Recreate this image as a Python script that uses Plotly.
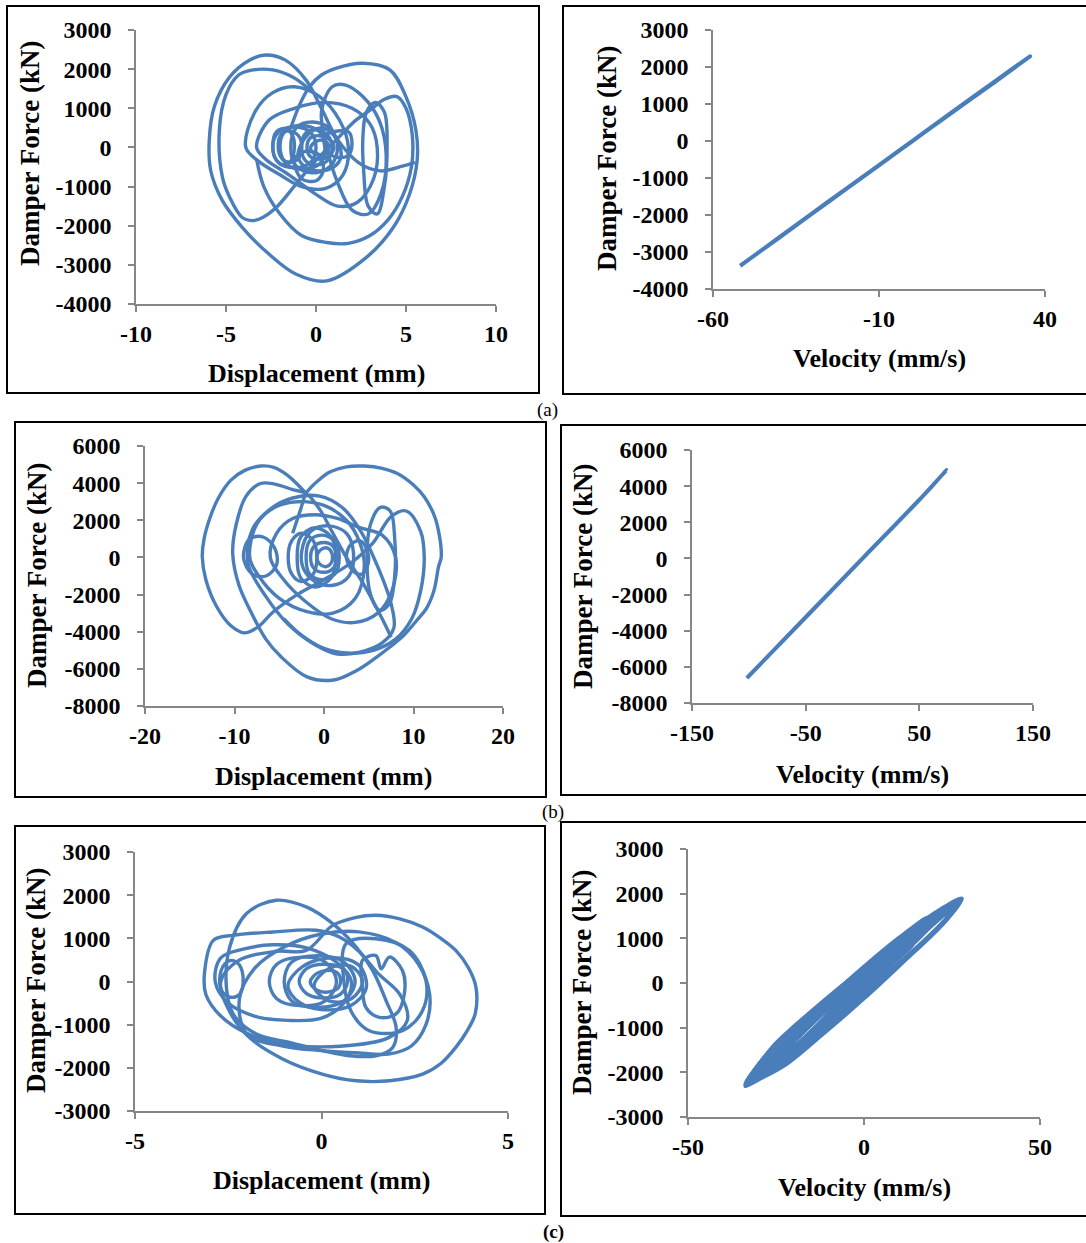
import plotly.graph_objects as go

BLUE = "#4a7ebb"
AXC = "#868686"
FONT = "Liberation Serif"

# ---------------- (a) left: displacement (mm) vs damper force (kN) ----------------
a_left_loops = [
    [(-1.4, 500), (-0.9, 1100), (-0.36, 1550), (0.3, 1850), (1.1, 2020), (2.6, 2150), (4.1, 1980), (5.0, 1290),
     (5.55, 440), (5.62, -330), (5.2, -1190), (4.3, -2040), (2.8, -2810), (0.6, -3410), (-1.1, -3240),
     (-2.6, -2730), (-4.1, -2040), (-5.2, -1360), (-5.85, -590), (-5.93, 180), (-5.65, 1040), (-4.8, 1800),
     (-3.7, 2230), (-2.8, 2360), (-1.7, 2230), (-0.55, 1720), (0.3, 1000), (1.2, 200), (2.4, -400),
     (3.6, -600), (4.8, -480), (5.5, -380)],
    [(-0.4, 1500), (-1.3, 1800), (-2.4, 1980), (-3.5, 1980), (-4.3, 1850), (-5.0, 1350), (-5.37, 436),
     (-5.2, -760), (-4.8, -1270), (-4.1, -1790), (-3.5, -1870), (-2.96, -1790), (-2.2, -1530), (-1.1, -930),
     (0.0, -330), (1.1, 180), (2.2, 690), (3.0, 950), (3.8, 1230), (4.5, 1300), (5.0, 1000), (5.35, 300),
     (5.3, -500), (4.8, -1250), (4.0, -1850), (3.0, -2250), (1.8, -2450), (0.6, -2430), (-0.8, -2250),
     (-2.0, -1700), (-2.9, -1000), (-3.3, -300)],
    [(-3.9, 0), (-3.4, 900), (-2.4, 1400), (-1.2, 1550), (0.2, 1300), (1.3, 700), (1.8, 0), (1.5, -700),
     (0.5, -1050), (-0.8, -1000), (-2.0, -700), (-3.2, -350), (-3.9, 0)],
    [(-3.3, 0), (-2.6, 700), (-1.2, 1000), (0.5, 1150), (2.0, 1000), (3.0, 600), (3.4, 0), (3.2, -800),
     (2.3, -1400), (1.2, -1500), (0.0, -1200), (-1.5, -700), (-2.8, -300), (-3.3, 0)],
    [(0.3, 900), (0.9, 1550), (1.6, 1600), (2.6, 1300), (3.5, 700), (3.9, -200), (3.6, -1200), (2.9, -1700),
     (2.0, -1600), (1.2, -900), (0.6, 0), (0.3, 900)],
    [(2.6, 200), (2.8, 900), (3.3, 1150), (3.8, 900), (3.95, 0), (3.8, -1000), (3.4, -1700), (2.9, -1500),
     (2.65, -600), (2.6, 200)],
    [(-2.4, 0), (-2.2, 400), (-1.7, 480), (-1.3, 300), (-1.2, 0), (-1.4, -350), (-1.8, -450), (-2.2, -320), (-2.4, 0)],
    [(-2.1, 0), (-1.9, 350), (-1.4, 420), (-0.9, 250), (-0.8, 0), (-1.0, -300), (-1.5, -380), (-1.9, -280), (-2.1, 0)],
    [(-2.4, 0), (-2.1, 380), (-1.2, 520), (-0.3, 380), (0.0, 0), (-0.3, -380), (-1.2, -520), (-2.1, -380), (-2.4, 0)],
    [(-2.0, 50), (-1.7, 420), (-0.8, 560), (0.2, 400), (0.5, 0), (0.2, -420), (-0.8, -560), (-1.7, -400), (-2.0, 50)],
    [(-1.4, 0), (-1.1, 500), (-0.2, 650), (0.8, 480), (1.2, 0), (0.8, -480), (-0.2, -650), (-1.1, -480), (-1.4, 0)],
    [(-0.8, 0), (-0.6, 350), (0.0, 450), (0.6, 330), (0.9, 0), (0.6, -350), (0.0, -450), (-0.6, -330), (-0.8, 0)],
    [(-0.5, 0), (-0.3, 250), (0.2, 300), (0.7, 220), (1.0, 0), (0.7, -230), (0.2, -300), (-0.3, -240), (-0.5, 0)],
    [(0.5, 300), (1.2, 420), (1.8, 400), (2.0, 100), (1.8, -200), (1.2, -250), (0.6, -100), (0.5, 300)],
    [(-1.0, -200), (-0.5, 300), (0.3, 500), (1.0, 300), (1.4, -200), (1.0, -500), (0.2, -600), (-0.6, -500), (-1.0, -200)],
    [(-0.3, 0), (0.0, 150), (0.4, 180), (0.7, 50), (0.6, -150), (0.2, -200), (-0.2, -120), (-0.3, 0)],
    [(-1.2, -300), (-0.6, -100), (0.2, -200), (0.4, -600), (0.0, -850), (-0.8, -800), (-1.2, -300)],
]

# ---------------- (a) right: velocity (mm/s) vs damper force (kN) ----------------
a_right_vel = [-51.8, -40, -25, -10, 0, 10, 25, 35.5, 25, 10, 0, -10, -25, -40, -51.8]
a_right_force = [-3375, -2600, -1620, -650, 0, 650, 1620, 2290, 1600, 640, -10, -660, -1630, -2610, -3370]

# ---------------- (b) left ----------------
b_left_loops = [
    [(-3.5, 1300), (-2.6, 2600), (-2.0, 3450), (-0.5, 4200), (0.7, 4610), (2.5, 4880), (4.5, 4920), (6.5, 4800),
     (8.2, 4520), (10.0, 3900), (11.2, 3270), (12.2, 2400), (12.7, 1650), (13.1, 36), (12.8, -500), (12.3, -1760),
     (11.5, -2700), (10.4, -3370), (9.0, -4150), (7.4, -4810), (5.5, -5500), (3.7, -6070), (1.1, -6600),
     (-1.9, -6430), (-4.8, -5350), (-6.5, -4400), (-8.2, -2900), (-9.5, -1500), (-10.2, 200), (-9.8, 1800),
     (-8.7, 3300), (-7.1, 3980), (-5.5, 3950), (-3.5, 3650), (-2.0, 3450), (-0.5, 2600), (1.0, 1300),
     (2.5, 0), (4.5, -1500), (6.5, -3300), (7.5, -4300)],
    [(-2.0, 3450), (-4.1, 4430), (-5.6, 4850), (-7.1, 4920), (-8.8, 4700), (-10.4, 4160), (-11.8, 3200),
     (-12.7, 2190), (-13.4, 1000), (-13.6, 36), (-13.2, -1200), (-12.0, -2640), (-10.4, -3680), (-8.9, -4060),
     (-7.4, -3750), (-5.6, -2900), (-3.0, -2000), (0.0, -1200), (3.0, -300), (5.5, 800), (7.5, 2200),
     (9.2, 2500), (10.8, 1400), (11.2, 0), (10.8, -1800), (9.8, -3300), (8.0, -4400), (5.5, -5000),
     (2.5, -5150), (0.0, -4900), (-2.5, -4200), (-4.5, -3300)],
    [(-8.3, 0), (-7.5, 1800), (-5.5, 2700), (-3.0, 3000), (0.0, 2800), (2.5, 2000), (4.0, 800), (4.5, -500),
     (3.5, -2200), (1.0, -3000), (-2.0, -2900), (-5.0, -2200), (-7.3, -1000), (-8.3, 0)],
    [(-6.0, 0), (-5.3, 1300), (-3.5, 2100), (-1.0, 2300), (1.5, 2100), (4.0, 1600), (6.5, 1200), (8.0, 0),
     (7.6, -1800), (6.0, -3000), (3.5, -3500), (0.8, -3300), (-2.0, -2400), (-4.5, -1200), (-6.0, 0)],
    [(-8.5, -300), (-8.0, 1500), (-6.0, 2600), (-3.5, 3200), (-0.5, 3300), (2.0, 2700), (4.0, 1500),
     (6.0, -500), (7.5, -2500), (7.8, -3800), (6.5, -4600), (4.0, -5100), (1.5, -5200), (-1.0, -4700),
     (-4.0, -3600), (-6.5, -2100), (-8.5, -300)],
    [(4.8, 0), (5.2, 1800), (6.3, 2700), (7.4, 2500), (7.9, 1000), (7.9, -1000), (7.3, -2500), (6.2, -2850),
     (5.2, -2000), (4.8, 0)],
    [(-4.0, 0), (-3.6, 900), (-2.5, 1300), (-1.2, 900), (-0.8, 0), (-1.2, -900), (-2.5, -1300), (-3.6, -900), (-4.0, 0)],
    [(-3.0, 0), (-2.6, 1100), (-1.0, 1600), (0.8, 1100), (1.3, 0), (0.8, -1100), (-1.0, -1600), (-2.6, -1100), (-3.0, 0)],
    [(-2.0, 0), (-1.6, 900), (-0.3, 1200), (1.2, 900), (1.7, 0), (1.2, -900), (-0.3, -1200), (-1.6, -900), (-2.0, 0)],
    [(-1.5, 0), (-1.1, 600), (0.0, 800), (1.0, 600), (1.4, 0), (1.0, -600), (0.0, -800), (-1.1, -600), (-1.5, 0)],
    [(-2.5, 300), (-1.5, 1400), (0.5, 1700), (2.5, 1300), (3.3, 200), (2.8, -1000), (1.0, -1500), (-1.0, -1300),
     (-2.3, -600), (-2.5, 300)],
    [(2.5, 0), (3.0, 700), (4.0, 900), (4.8, 400), (4.9, -400), (4.2, -900), (3.2, -700), (2.5, 0)],
    [(-9.0, 0), (-8.3, 1000), (-6.8, 1100), (-5.5, 500), (-5.3, -400), (-6.5, -1000), (-8.0, -900), (-9.0, 0)],
    [(-0.8, 0), (-0.4, 400), (0.4, 500), (0.9, 200), (0.8, -300), (0.2, -500), (-0.5, -350), (-0.8, 0)],
]

# ---------------- (b) right ----------------
b_right_vel = [-101.7, -60, -20, 0, 20, 50, 74, 50, 20, 0, -20, -60, -101.7]
b_right_force = [-6620, -3900, -1300, 0, 1300, 3250, 4890, 3240, 1290, -10, -1310, -3910, -6610]

# ---------------- (c) left ----------------
c_left_loops = [
    [(-2.46, 800), (-2.01, 1573), (-1.21, 1883), (-0.41, 1728), (0.30, 1340), (0.93, 800), (1.37, 256),
     (1.73, -442), (2.0, -1062), (1.91, -1527), (1.46, -1720), (0.75, -1720), (0.04, -1604), (-0.86, -1410),
     (-1.75, -1217), (-2.37, -750), (-2.55, -130), (-2.46, 800)],
    [(-0.41, 720), (0.30, 1300), (0.9, 1480), (1.46, 1535), (2.1, 1450), (2.71, 1263), (3.2, 1000), (3.6, 720),
     (3.95, 300), (4.14, -130), (4.12, -750), (3.9, -1150), (3.6, -1527), (3.2, -1900), (2.71, -2147),
     (1.82, -2300), (0.93, -2300), (0.04, -2150), (-1.03, -1800), (-1.93, -1300), (-2.46, -700), (-2.7, 0),
     (-2.2, 500), (-1.2, 700), (-0.41, 720)],
    [(-3.13, 256), (-2.9, 953), (-2.37, 1070), (-1.3, 1147), (-0.14, 1186), (0.48, 1030), (1.0, 700),
     (1.5, 200), (2.1, -300), (2.3, -900), (1.8, -1300), (0.5, -1500), (-1.0, -1450), (-2.0, -1200),
     (-2.7, -800), (-3.1, -300), (-3.13, 256)],
    [(1.1, 490), (1.46, 600), (1.6, 295), (1.82, 566), (2.17, 256), (2.22, -287), (2.0, -750), (1.55, -830),
     (1.19, -600), (1.1, -130), (1.1, 490)],
    [(0.66, 876), (1.46, 990), (2.35, 720), (2.8, 23), (2.71, -674), (2.17, -1140), (1.28, -1140), (0.8, -700),
     (0.6, 0), (0.66, 876)],
    [(-2.73, 60), (-2.6, 400), (-2.4, 490), (-2.2, 380), (-2.1, 0), (-2.2, -300), (-2.45, -365), (-2.65, -250), (-2.73, 60)],
    [(-2.85, 0), (-2.7, 550), (-2.1, 750), (-1.3, 850), (-0.4, 780), (0.4, 450), (0.8, 0), (0.6, -500),
     (0.0, -850), (-0.9, -900), (-1.8, -800), (-2.5, -500), (-2.85, 0)],
    [(-2.0, -1217), (-1.0, -1500), (0.0, -1600), (0.9, -1650), (1.8, -1680), (2.4, -1500), (2.8, -1000),
     (2.9, -300), (2.6, 400), (2.0, 900), (1.0, 1150), (0.0, 1100), (-1.0, 800), (-1.8, 300), (-2.2, -400), (-2.0, -1217)],
    [(-1.4, 0), (-1.2, 400), (-0.6, 560), (0.1, 450), (0.4, 0), (0.1, -450), (-0.6, -560), (-1.2, -400), (-1.4, 0)],
    [(-1.0, 0), (-0.8, 450), (-0.1, 600), (0.6, 450), (0.9, 0), (0.6, -450), (-0.1, -600), (-0.8, -450), (-1.0, 0)],
    [(-0.6, 0), (-0.4, 300), (0.1, 400), (0.6, 280), (0.7, 0), (0.5, -300), (0.0, -380), (-0.4, -280), (-0.6, 0)],
    [(-0.3, 0), (-0.1, 200), (0.3, 250), (0.5, 100), (0.45, -150), (0.1, -250), (-0.2, -150), (-0.3, 0)],
    [(-0.9, -100), (-0.5, 350), (0.3, 550), (1.0, 380), (1.2, -150), (0.8, -550), (0.0, -650), (-0.6, -480), (-0.9, -100)],
    [(-0.2, -100), (0.2, 300), (0.8, 350), (1.1, 0), (0.8, -400), (0.2, -450), (-0.2, -100)],
]

# ---------------- (c) right ----------------
c_right_loops = [
    [(-33.6, -2283), (-30, -1850), (-22, -1150), (-12, -450), (0, 330), (12, 1100), (22, 1650), (27.7, 1880),
     (22, 1300), (12, 550), (0, -330), (-12, -1150), (-22, -1800), (-30, -2150), (-33.6, -2283)],
    [(-33.6, -2300), (-28, -1800), (-20, -1200), (-10, -450), (0, 250), (10, 950), (20, 1500), (26, 1800),
     (20, 1350), (10, 700), (0, -50), (-10, -750), (-20, -1450), (-28, -1950), (-33.6, -2300)],
    [(-32, -2200), (-25, -1550), (-15, -750), (-5, 0), (5, 650), (15, 1250), (24.4, 1560), (18, 1000), (8, 300),
     (-2, -400), (-12, -1100), (-22, -1750), (-32, -2200)],
    [(-31, -2150), (-22, -1400), (-12, -650), (0, 150), (12, 950), (22, 1600), (16, 1050), (4, 200), (-8, -650),
     (-20, -1500), (-31, -2150)],
    [(-33, -2250), (-26, -1450), (-20, -1000), (-10, -350), (0, 350), (10, 1000), (18, 1450), (12, 900), (0, 0),
     (-10, -800), (-18, -1350), (-24, -1800), (-33, -2250)],
    [(-28, -1950), (-20, -1250), (-10, -500), (0, 250), (10, 900), (16, 1200), (10, 650), (0, -200), (-10, -950),
     (-20, -1550), (-28, -1950)],
    [(-26, -1800), (-18, -1150), (-6, -250), (6, 600), (16, 1250), (20, 1400), (14, 900), (2, 50), (-10, -850),
     (-20, -1450), (-26, -1800)],
    [(-20, -1500), (-10, -700), (0, 100), (8, 700), (4, 300), (-5, -450), (-14, -1100), (-20, -1500)],
    [(-12, -900), (0, 150), (10, 780), (14, 900), (6, 300), (-4, -400), (-12, -900)],
]

# ---------------- tick values / labels ----------------
a_left_xticks = [-10, -5, 0, 5, 10]
a_left_xlabels = ["-10", "-5", "0", "5", "10"]
a_yticks = [-4000, -3000, -2000, -1000, 0, 1000, 2000, 3000]
a_ylabels = ["-4000", "-3000", "-2000", "-1000", "0", "1000", "2000", "3000"]
a_right_xticks = [-60, -10, 40]
a_right_xlabels = ["-60", "-10", "40"]
b_left_xticks = [-20, -10, 0, 10, 20]
b_left_xlabels = ["-20", "-10", "0", "10", "20"]
b_yticks = [-8000, -6000, -4000, -2000, 0, 2000, 4000, 6000]
b_ylabels = ["-8000", "-6000", "-4000", "-2000", "0", "2000", "4000", "6000"]
b_right_xticks = [-150, -50, 50, 150]
b_right_xlabels = ["-150", "-50", "50", "150"]
c_left_xticks = [-5, 0, 5]
c_left_xlabels = ["-5", "0", "5"]
c_yticks = [-3000, -2000, -1000, 0, 1000, 2000, 3000]
c_ylabels = ["-3000", "-2000", "-1000", "0", "1000", "2000", "3000"]
c_right_xticks = [-50, 0, 50]
c_right_xlabels = ["-50", "0", "50"]

W, H = 1086, 1243


def flatten(loops):
    xs, ys = [], []
    for loop in loops:
        for x, y in loop:
            xs.append(x)
            ys.append(y)
        xs.append(None)
        ys.append(None)
    return xs, ys


def px(xp):
    return xp / W


def py(yp):
    return 1 - yp / H


# panel: (x-domain px, y-domain px (top, bottom), xrange, xticks, xlabels, yrange, yticks, ylabels)
panels = [
    ((136, 496), (30, 304), [-10, 10], a_left_xticks, a_left_xlabels, [-4000, 3000], a_yticks, a_ylabels),
    ((713, 1045), (30, 289), [-60, 40], a_right_xticks, a_right_xlabels, [-4000, 3000], a_yticks, a_ylabels),
    ((145, 503), (446, 706), [-20, 20], b_left_xticks, b_left_xlabels, [-8000, 6000], b_yticks, b_ylabels),
    ((692, 1033), (450, 703), [-150, 150], b_right_xticks, b_right_xlabels, [-8000, 6000], b_yticks, b_ylabels),
    ((135, 508), (852, 1111), [-5, 5], c_left_xticks, c_left_xlabels, [-3000, 3000], c_yticks, c_ylabels),
    ((688, 1040), (849, 1117), [-50, 50], c_right_xticks, c_right_xlabels, [-3000, 3000], c_yticks, c_ylabels),
]

fig = go.Figure()

data_sets = [
    flatten(a_left_loops),
    (a_right_vel, a_right_force),
    flatten(b_left_loops),
    (b_right_vel, b_right_force),
    flatten(c_left_loops),
    flatten(c_right_loops),
]
widths = [3.4, 4, 3.4, 4, 3.4, 5]

for i, ((xs, ys), w) in enumerate(zip(data_sets, widths)):
    k = "" if i == 0 else str(i + 1)
    fig.add_trace(go.Scatter(
        x=xs, y=ys, mode="lines", xaxis="x" + k, yaxis="y" + k,
        line=dict(color=BLUE, width=w, shape="spline", smoothing=1.0),
        connectgaps=False, showlegend=False, hoverinfo="skip",
    ))

tickfont = dict(family=FONT, size=24, color="black", weight="bold")
layout = {}
for i, (xd, yd, xr, xtv, xtt, yr, ytv, ytt) in enumerate(panels):
    k = "" if i == 0 else str(i + 1)
    layout["xaxis" + k] = dict(
        domain=[px(xd[0]), px(xd[1])], range=xr, tickmode="array", tickvals=xtv, ticktext=xtt,
        anchor="y" + k, showline=True, linecolor=AXC, linewidth=1.5,
        ticks="outside", ticklen=6, tickcolor=AXC, tickwidth=1.5,
        showgrid=False, zeroline=False, tickfont=tickfont, ticklabelstandoff=1,
        fixedrange=True, automargin=False,
    )
    layout["yaxis" + k] = dict(
        domain=[py(yd[1]), py(yd[0])], range=yr, tickmode="array", tickvals=ytv, ticktext=ytt,
        anchor="x" + k, showline=True, linecolor=AXC, linewidth=1.5,
        ticks="outside", ticklen=6, tickcolor=AXC, tickwidth=1.5,
        showgrid=False, zeroline=False, tickfont=tickfont, ticklabelstandoff=12,
        fixedrange=True, automargin=False,
    )

# panel frames
frames = [
    (7, 6, 539, 393),
    (563, 6, 1092, 394),
    (15, 422, 546, 797),
    (561, 425, 1092, 795),
    (15, 826, 545, 1214),
    (561, 822, 1092, 1216),
]
shapes = []
for x0, y0, x1, y1 in frames:
    shapes.append(dict(type="rect", xref="paper", yref="paper",
                       x0=px(x0), x1=px(x1), y0=py(y1), y1=py(y0),
                       line=dict(color="black", width=2), fillcolor="rgba(0,0,0,0)"))

titlefont_x = dict(family=FONT, size=26, color="black", weight="bold")
titlefont_y = dict(family=FONT, size=27, color="black", weight="bold")
annotations = []
xtitles = [
    ("Displacement (mm)", 316, 373),
    ("Velocity (mm/s)", 879, 358),
    ("Displacement (mm)", 323, 776),
    ("Velocity (mm/s)", 862, 774),
    ("Displacement (mm)", 321, 1180),
    ("Velocity (mm/s)", 864, 1187),
]
for t, x, y in xtitles:
    annotations.append(dict(text=t, x=px(x), y=py(y), xref="paper", yref="paper",
                            showarrow=False, font=titlefont_x, xanchor="center", yanchor="middle"))
ytitles = [(30, 154), (607, 159), (37, 576), (583, 577), (36, 981), (582, 983)]
for x, y in ytitles:
    annotations.append(dict(text="Damper Force (kN)", x=px(x), y=py(y), xref="paper", yref="paper",
                            showarrow=False, font=titlefont_y, textangle=-90,
                            xanchor="center", yanchor="middle"))
captions = [("(a)", 547, 410, "normal"), ("(b)", 553, 812, "normal"), ("(c)", 553, 1232, "bold")]
for t, x, y, wt in captions:
    annotations.append(dict(text=t, x=px(x), y=py(y), xref="paper", yref="paper", showarrow=False,
                            font=dict(family=FONT, size=19, color="black", weight=wt),
                            xanchor="center", yanchor="middle"))

fig.update_layout(
    template="none",
    width=W, height=H, autosize=False,
    margin=dict(l=0, r=0, t=0, b=0, pad=0),
    paper_bgcolor="white", plot_bgcolor="white",
    showlegend=False,
    shapes=shapes, annotations=annotations, **layout,
)

fig.write_html("out.html", config={"responsive": False, "displayModeBar": False})
